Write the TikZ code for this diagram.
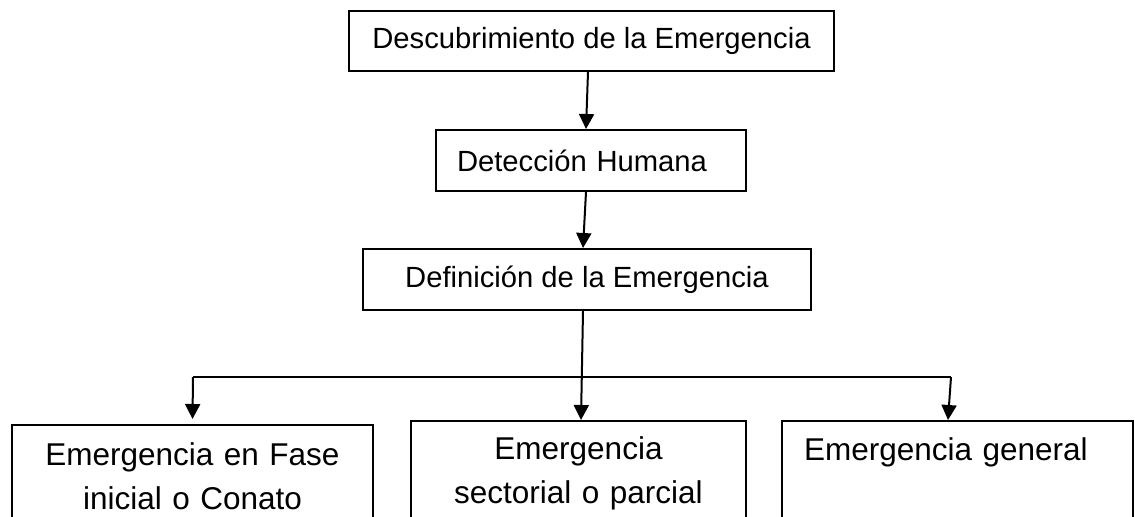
\documentclass[tikz,border=0pt]{standalone}
\usepackage{fontspec}
\setmainfont{Liberation Sans}
\usetikzlibrary{arrows.meta}
\begin{document}
\begin{tikzpicture}[x=0.5pt, y=-0.5pt, >={Triangle[length=7.5pt,width=7.5pt]}, line width=1pt,
  box/.style={draw, inner sep=0pt, font=\fontsize{14.6pt}{21.75pt}\selectfont},
  low/.style={box, anchor=north, font=\fontsize{15.75pt}{22pt}\selectfont, text height=11.3pt, text depth=70pt}]
\useasboundingbox (0,0) rectangle (1135,516);
\clip (0,0) rectangle (1135,516);
\node[box, minimum width=242.5pt, minimum height=30pt] (desc) at (591.5,41) {Descubrimiento de la Emergencia};
\node[box, minimum width=155pt, minimum height=30.5pt, text width=134pt, inner xsep=10.5pt, align=left] (det) at (591,160.5) {Detección Humana};
\node[box, minimum width=224pt, minimum height=30.5pt] (def) at (587,279.5) {Definición de la Emergencia};
\node[low, text width=180.5pt, inner ysep=8.7pt, align=center] (fase) at (192.5,424) {Emergencia en Fase\\inicial o Conato};
\node[low, text width=167.5pt, inner ysep=7.8pt, align=center] (sect) at (578.5,420) {Emergencia\\sectorial o parcial};
\node[low, text width=153.5pt, inner xsep=11pt, inner ysep=8.2pt, align=left] (gen) at (957.5,420) {Emergencia general};
\draw[->] ([xshift=-1.75pt]desc.south) -- ([xshift=-2.5pt]det.north);
\draw[->] ([xshift=-2.5pt]det.south) -- ([xshift=-2pt]def.north);
\draw[->] ([xshift=-2pt]def.south) -- ([xshift=1.25pt]sect.north);
\coordinate (barL) at (193,377);
\coordinate (barR) at (951,377);
\draw (barL) -- (barR);
\draw[->] (barL) -- ([yshift=2.5pt]fase.north);
\draw[->] (barR) -- ([xshift=-4.75pt]gen.north);
\end{tikzpicture}
\end{document}
